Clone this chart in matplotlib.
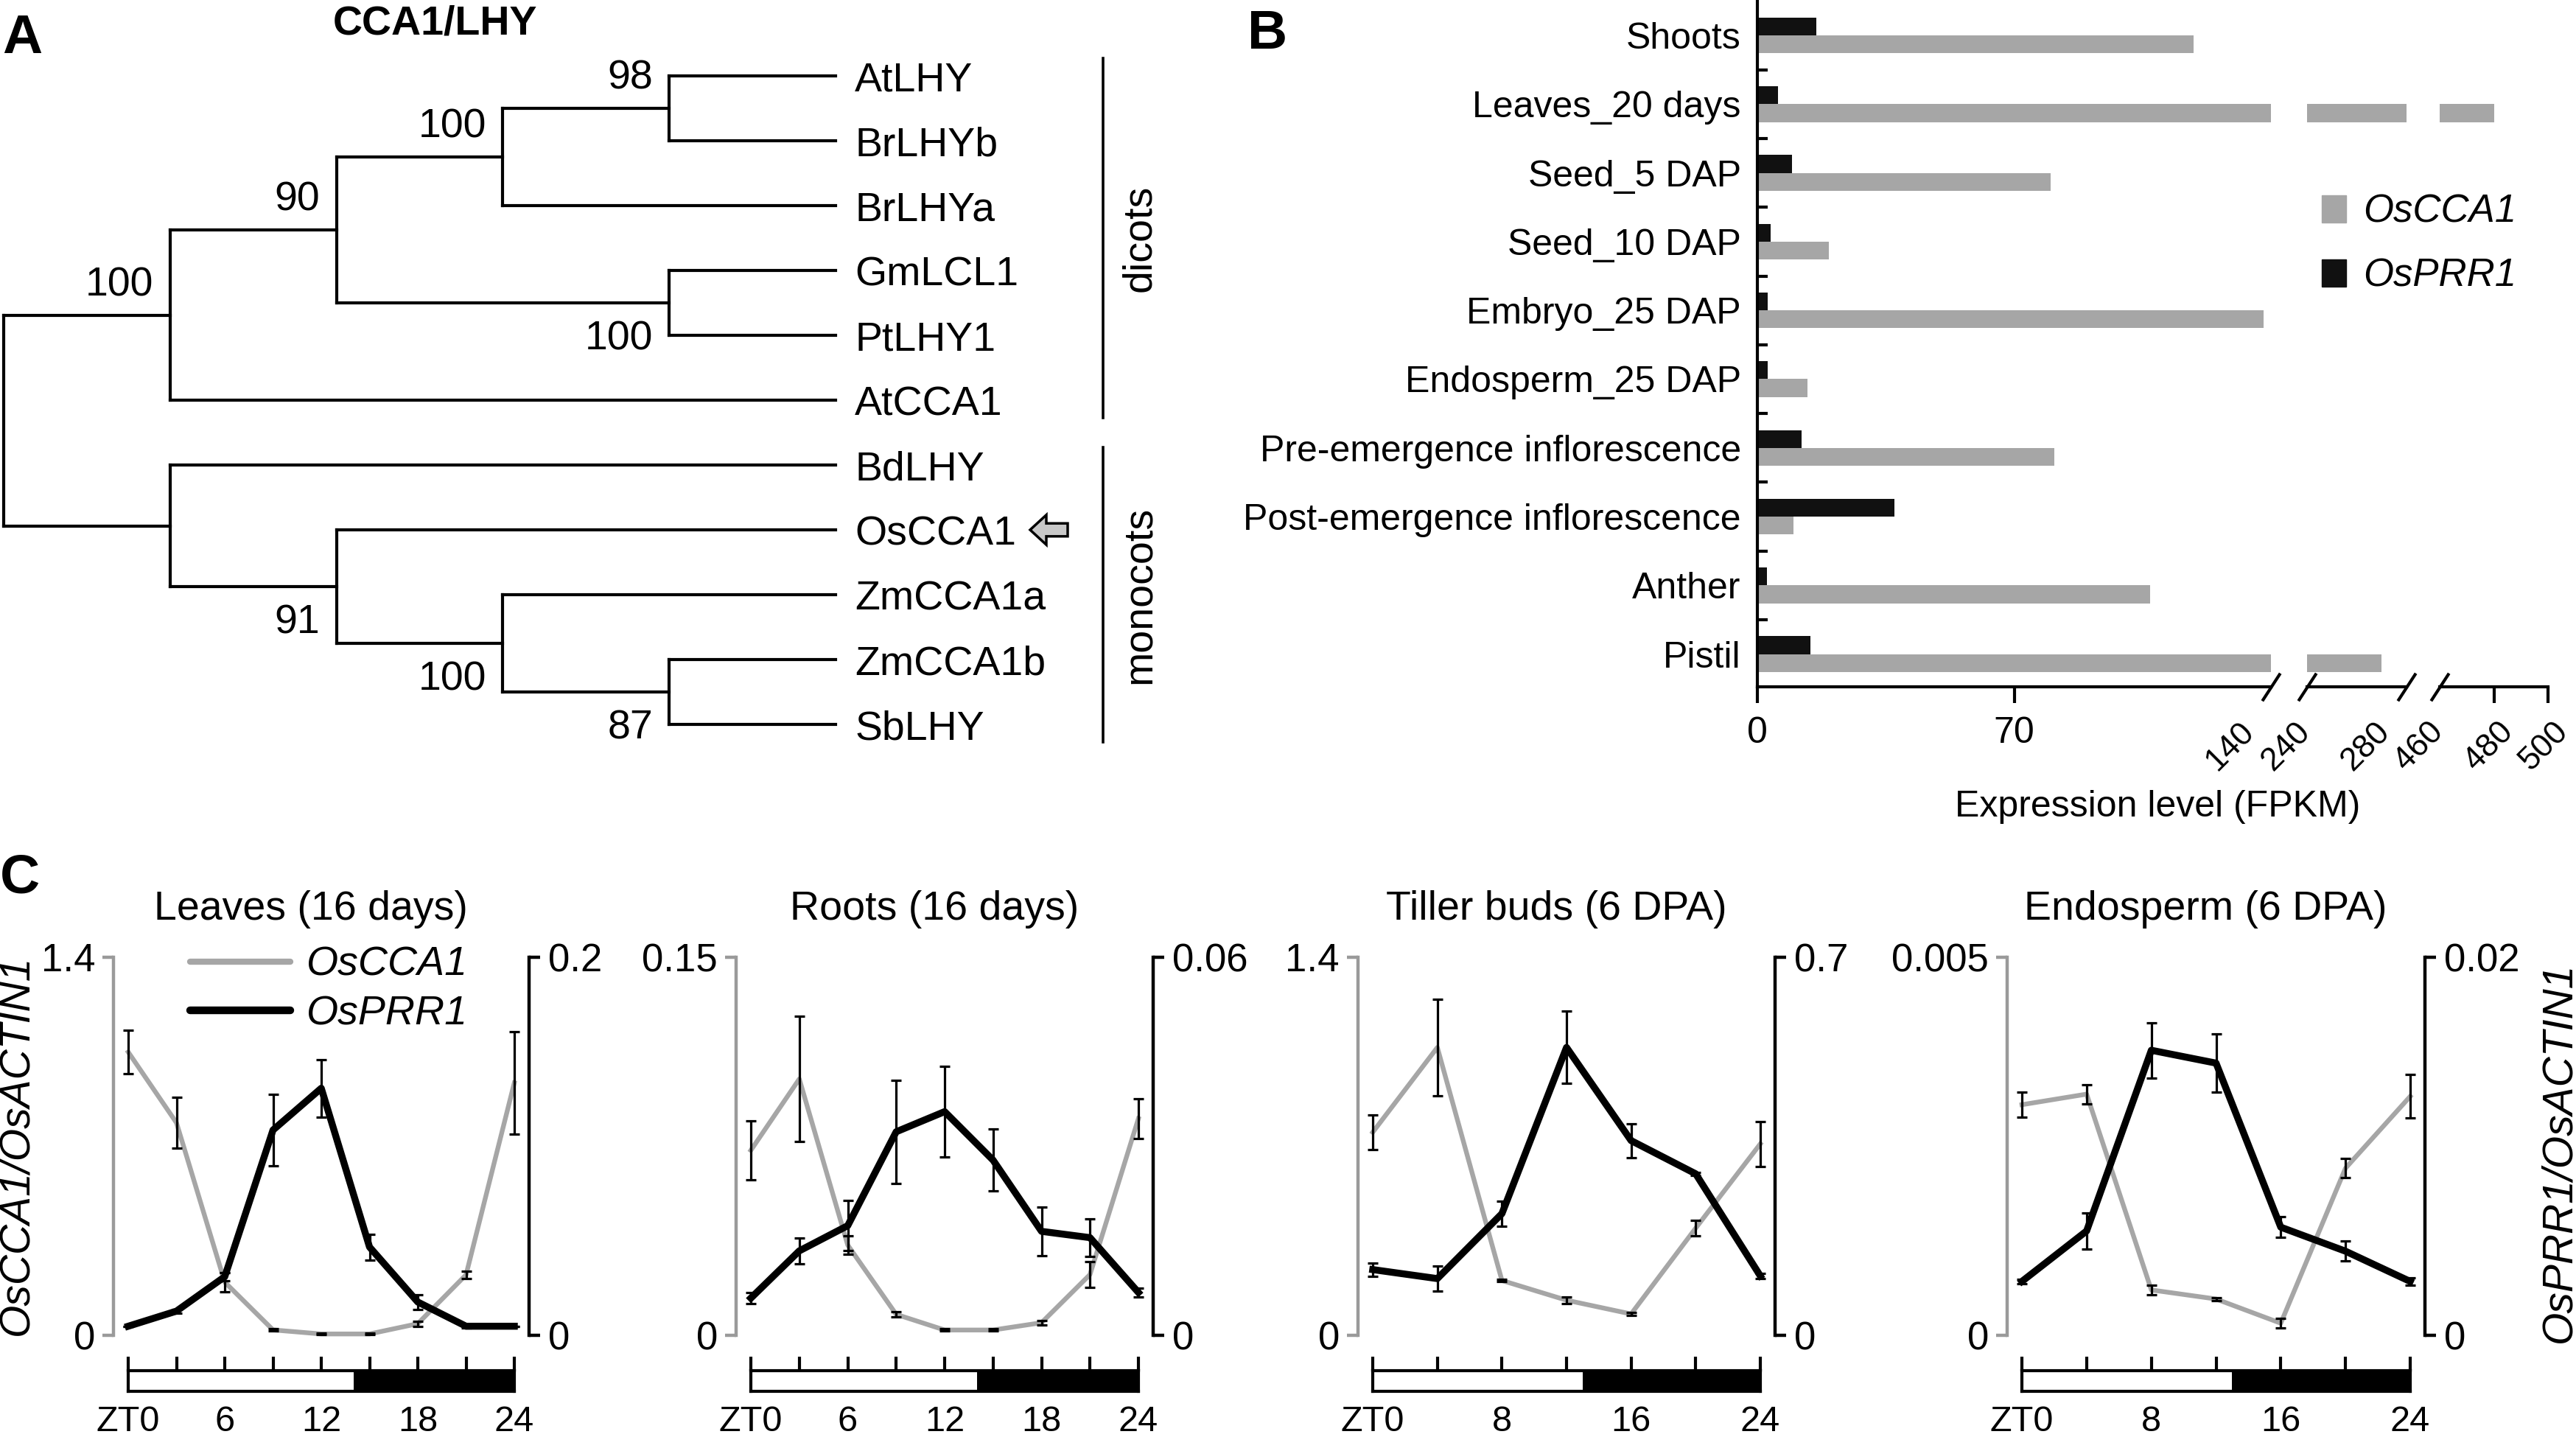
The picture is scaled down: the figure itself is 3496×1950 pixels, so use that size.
import numpy as np
import matplotlib
matplotlib.use("Agg")
import matplotlib.pyplot as plt
from matplotlib.patches import Patch, FancyArrow
from matplotlib.lines import Line2D

plt.rcParams['font.family'] = ['Liberation Sans', 'DejaVu Sans']

# ---------------- data ----------------
# Panel A: cladogram (newick with bootstrap support)
tree_newick = "(((((AtLHY,BrLHYb)98,BrLHYa)100,(GmLCL1,PtLHY1)100)90,AtCCA1)100,(BdLHY,(OsCCA1,(ZmCCA1a,(ZmCCA1b,SbLHY)87)100)91));"
tree_title = "CCA1/LHY"
groups = [("dicots", "AtLHY", "AtCCA1"), ("monocots", "BdLHY", "SbLHY")]
highlight = "OsCCA1"

# Panel B: expression (FPKM)
tissues = ["Shoots", "Leaves_20 days", "Seed_5 DAP", "Seed_10 DAP", "Embryo_25 DAP",
           "Endosperm_25 DAP", "Pre-emergence inflorescence",
           "Post-emergence inflorescence", "Anther", "Pistil"]
oscca1_fpkm = [119, 480, 80, 19.5, 138, 13.7, 81, 9.8, 107, 270]
osprr1_fpkm = [16, 5.6, 9.4, 3.6, 2.8, 2.8, 12.1, 37.4, 2.6, 14.5]
x_segments = [(0, 140), (240, 280), (460, 500)]
x_segment_ticks = [[0, 70, 140], [240, 280], [460, 480, 500]]

# Panel C: qRT-PCR time courses
c_titles = ["Leaves (16 days)", "Roots (16 days)", "Tiller buds (6 DPA)", "Endosperm (6 DPA)"]
c_times = [[0, 3, 6, 9, 12, 15, 18, 21, 24], [0, 3, 6, 9, 12, 15, 18, 21, 24],
           [0, 4, 8, 12, 16, 20, 24], [0, 4, 8, 12, 16, 20, 24]]
c_time_labels = [[0, 6, 12, 18, 24], [0, 6, 12, 18, 24], [0, 8, 16, 24], [0, 8, 16, 24]]
c_light_hours = [14, 14, 13, 13]
cca1_mean = [
    [1.049, 0.787, 0.197, 0.020, 0.005, 0.005, 0.043, 0.224, 0.935],
    [0.0734, 0.1017, 0.0358, 0.0083, 0.0021, 0.0021, 0.0050, 0.0241, 0.0860],
    [0.752, 1.066, 0.203, 0.130, 0.079, 0.397, 0.709],
    [0.00305, 0.00319, 0.00060, 0.00048, 0.00016, 0.00221, 0.00316],
]
cca1_err = [
    [0.080, 0.095, 0.036, 0.004, 0.003, 0.003, 0.010, 0.013, 0.190],
    [0.0118, 0.0248, 0.0036, 0.0010, 0.0004, 0.0004, 0.0009, 0.0050, 0.0079],
    [0.064, 0.179, 0.005, 0.013, 0.006, 0.029, 0.083],
    [0.000166, 0.000127, 0.00006, 0.00002, 0.00006, 0.000127, 0.000288],
]
prr1_mean = [
    [0.0048, 0.0128, 0.0310, 0.1086, 0.1307, 0.0467, 0.0176, 0.0048, 0.0048],
    [0.0059, 0.0134, 0.0174, 0.0323, 0.0355, 0.0278, 0.0165, 0.0155, 0.0068],
    [0.1217, 0.1050, 0.2253, 0.5330, 0.3605, 0.2990, 0.1100],
    [0.00285, 0.00552, 0.01508, 0.01440, 0.00572, 0.00445, 0.00285],
]
prr1_err = [
    [0.0000, 0.0010, 0.0020, 0.0188, 0.0153, 0.0069, 0.0038, 0.0008, 0.0000],
    [0.0009, 0.0020, 0.0040, 0.0082, 0.0072, 0.0049, 0.0039, 0.0030, 0.0007],
    [0.0127, 0.0234, 0.0234, 0.0669, 0.0310, 0.0030, 0.0050],
    [0.00012, 0.00096, 0.00146, 0.00153, 0.00055, 0.00053, 0.00020],
]
ymax_cca1 = [1.4, 0.15, 1.4, 0.005]
ymax_prr1 = [0.2, 0.06, 0.7, 0.02]

# ---------------- style ----------------
W, H = 3496, 1950
GRAY = '#a6a6a6'
SPINE_GRAY = '#9a9a9a'
BLACK = '#111111'
PT = 72 / 100  # points per pixel at dpi 100

fig = plt.figure(figsize=(W / 100, H / 100), dpi=100)
fig.patch.set_facecolor('white')


def rect(l, t, r, b):
    return [l / W, 1 - b / H, (r - l) / W, (b - t) / H]


def fxy(x, y):
    return x / W, 1 - y / H


# panel letters
for lab, (x, y) in zip("ABC", [(30, 53), (1720, 47), (27, 1192)]):
    fig.text(*fxy(x, y), lab, fontsize=54, fontweight='bold', ha='center', va='center')

# ================= Panel A =================
def parse_newick(s):
    pos = 0

    def node():
        nonlocal pos
        if s[pos] == '(':
            pos += 1
            kids = []
            while True:
                kids.append(node())
                if s[pos] == ',':
                    pos += 1
                else:
                    pos += 1
                    break
            st = pos
            while s[pos] not in ',);':
                pos += 1
            return {'kids': kids, 'label': s[st:pos]}
        st = pos
        while s[pos] not in ',);':
            pos += 1
        return {'name': s[st:pos]}
    return node()


root = parse_newick(tree_newick)
leaf_order = []


def layout(n):
    if 'name' in n:
        n['y'] = len(leaf_order)
        leaf_order.append(n['name'])
        n['h'] = 0
        return
    for k in n['kids']:
        layout(k)
    n['h'] = 1 + max(k['h'] for k in n['kids'])
    n['y'] = (n['kids'][0]['y'] + n['kids'][-1]['y']) / 2


layout(root)
depth = root['h']
nleaf = len(leaf_order)

axA = fig.add_axes(rect(5, 103, 1134, 983))
axA.set_xlim(0, depth)
axA.set_ylim(nleaf - 1, 0)
axA.axis('off')
unit_px = (1134 - 5) / depth
tree_lw = 3.0


def draw(n):
    if 'name' in n:
        return
    x = depth - n['h']
    axA.plot([x, x], [n['kids'][0]['y'], n['kids'][-1]['y']], color='black',
             lw=tree_lw, solid_capstyle='projecting', clip_on=False)
    for i, k in enumerate(n['kids']):
        kx = depth - k['h']
        axA.plot([x, kx], [k['y'], k['y']], color='black', lw=tree_lw,
                 solid_capstyle='projecting', clip_on=False)
        if 'kids' in k and k['label']:
            above = (i == 0)
            axA.annotate(k['label'], xy=(kx, k['y']),
                         xytext=(-16, 19 if above else -17), textcoords='offset points',
                         ha='right', va='baseline' if above else 'top', fontsize=40)
        draw(k)


draw(root)

for i, name in enumerate(leaf_order):
    axA.annotate(name, xy=(depth, i), xytext=(19, -14.5), textcoords='offset points',
                 ha='left', va='baseline', fontsize=40)

for gname, g0, g1 in groups:
    a, b = leaf_order.index(g0), leaf_order.index(g1)
    xb = depth + 363 / unit_px
    axA.plot([xb, xb], [a - 0.27, b + 0.27], color='black', lw=2.6, clip_on=False)
    axA.text(depth + 413 / unit_px, (a + b) / 2, gname, rotation=90, ha='center',
             va='center', fontsize=40)

hi = leaf_order.index(highlight)
arr_x0 = depth + 315 / unit_px
arr_len = 51 / unit_px
axA.add_patch(FancyArrow(arr_x0, hi, -arr_len, 0, width=0.2, head_width=0.46,
                         head_length=22 / unit_px, length_includes_head=True,
                         fc='#c8c8c8', ec='black', lw=2.5, clip_on=False))

fig.text(*fxy(591, 32), tree_title, fontsize=40, fontweight='bold', ha='center', va='center')

# ================= Panel B =================
seg_px = [(2385, 3082), (3131, 3266), (3311, 3458)]
idx = np.arange(len(tissues))
bh = 0.26
axes_b = []
nseg = len(seg_px)
for si, ((l, r), lim, ticks) in enumerate(zip(seg_px, x_segments, x_segment_ticks)):
    ax = fig.add_axes(rect(l, 0, r, 932))
    axes_b.append(ax)
    ax.barh(idx - bh / 2, osprr1_fpkm, height=bh, color=BLACK)
    ax.barh(idx + bh / 2, oscca1_fpkm, height=bh, color=GRAY)
    ax.set_xlim(*lim)
    ax.set_ylim(9.475, -0.514)
    for sp in ['top', 'right']:
        ax.spines[sp].set_visible(False)
    ax.spines['bottom'].set_linewidth(3)
    if si == 0:
        ax.spines['left'].set_linewidth(3)
        ax.set_yticks(idx, tissues)
        ax.set_yticks(idx[:-1] + 0.5, minor=True)
        ax.tick_params(axis='y', which='major', length=0, pad=16, labelsize=36)
        ax.tick_params(axis='y', which='minor', direction='in', length=10, width=3)
    else:
        ax.spines['left'].set_visible(False)
        ax.set_yticks([])
    rotated = [t >= 140 for t in ticks]
    ax.set_xticks(ticks, ['' if rt else str(t) for t, rt in zip(ticks, rotated)])
    ax.tick_params(axis='x', direction='out', length=16, width=3, pad=13, labelsize=36)
    for t, tk, rt in zip(ticks, ax.xaxis.get_major_ticks(), rotated):
        end_break = (t == lim[1] and si < nseg - 1)
        start_break = (t == lim[0] and si > 0)
        if end_break or start_break:
            tk.tick1line.set_visible(False)
        if rt:
            dx = -55 if end_break else (-28 if start_break else -6)
            ax.annotate(str(t), xy=(t, 0), xycoords=ax.get_xaxis_transform(),
                        xytext=(dx * PT, -81 * PT), textcoords='offset points',
                        rotation=45, ha='center', va='center', fontsize=32,
                        annotation_clip=False)
    # break marks
    brk = []
    if si > 0:
        brk.append(lim[0])
    if si < nseg - 1:
        brk.append(lim[1])
    for bx in brk:
        ax.plot([bx], [0], transform=ax.get_xaxis_transform(),
                marker=[(-0.65, -1), (0.65, 1)], markersize=27, mec='black', mew=3,
                clip_on=False, zorder=10)

fig.text(*fxy(2928, 1108), "Expression level (FPKM)", fontsize=36, ha='center', va='baseline')
fig.legend(handles=[Patch(color=GRAY), Patch(color=BLACK)], labels=["OsCCA1", "OsPRR1"],
           loc='upper left', bbox_to_anchor=fxy(3151, 263), frameon=False,
           prop={'style': 'italic', 'size': 38}, handlelength=0.62, handleheight=0.68,
           handletextpad=0.45, labelspacing=0.7, borderpad=0, borderaxespad=0)

# ================= Panel C =================
c_left = [154, 999, 1843, 2724]
c_right = [718, 1565, 2409, 3291]
c_top, c_bot = 1299, 1812
edge_px = 20
for k in range(4):
    L, R = c_left[k], c_right[k]
    span = (R - L - 2 * edge_px) / 24.0
    pad_h = edge_px / span
    ax = fig.add_axes(rect(L, c_top, R, c_bot))
    ax2 = ax.twinx()
    t = np.array(c_times[k])
    ax.set_xlim(-pad_h, 24 + pad_h)
    ax.set_ylim(0, ymax_cca1[k])
    ax2.set_ylim(0, ymax_prr1[k])
    ax.plot(t, cca1_mean[k], color=GRAY, lw=4.6, clip_on=False, zorder=2)
    ax.errorbar(t, cca1_mean[k], yerr=cca1_err[k], fmt='none', ecolor='black',
                elinewidth=2.3, capsize=5, capthick=2.3, zorder=3, clip_on=False)
    ax2.plot(t, prr1_mean[k], color='black', lw=6.8, clip_on=False, zorder=2)
    ax2.errorbar(t, prr1_mean[k], yerr=prr1_err[k], fmt='none', ecolor='black',
                 elinewidth=2.3, capsize=5, capthick=2.3, zorder=3, clip_on=False)
    for a in (ax, ax2):
        for sp in ['top', 'bottom']:
            a.spines[sp].set_visible(False)
        a.set_xticks([])
    ax.spines['right'].set_visible(False)
    ax2.spines['left'].set_visible(False)
    ax.spines['left'].set_color(SPINE_GRAY)
    ax.spines['left'].set_linewidth(3.2)
    ax2.spines['right'].set_color('black')
    ax2.spines['right'].set_linewidth(3.2)
    ax.set_yticks([0, ymax_cca1[k]], ['0', f'{ymax_cca1[k]:g}'])
    ax2.set_yticks([0, ymax_prr1[k]], ['0', f'{ymax_prr1[k]:g}'])
    ax.tick_params(axis='y', color=SPINE_GRAY, labelcolor='black', length=11, width=3.2,
                   labelsize=38, pad=7)
    ax2.tick_params(axis='y', color='black', length=11, width=3.2, labelsize=38, pad=8)
    ax.set_title(c_titles[k], fontsize=40, pad=37, x=0.475)

    # light/dark bar with sampling ticks
    bx0, bx1 = L + edge_px, R - edge_px
    axb = fig.add_axes(rect(bx0, 1860, bx1, 1888))
    axb.set_xlim(0, 24)
    axb.set_ylim(0, 1)
    axb.axvspan(c_light_hours[k], 24, color='black', lw=0)
    for sp in axb.spines.values():
        sp.set_linewidth(3)
    labs = c_time_labels[k]
    axb.set_xticks(labs, ['ZT0' if v == 0 else str(v) for v in labs])
    axb.set_xticks([v for v in c_times[k] if v not in labs], minor=True)
    axb.set_yticks([])
    axb.tick_params(axis='x', which='both', top=True, bottom=False, labeltop=False,
                    labelbottom=True, direction='out', length=14, width=3, pad=0,
                    labelsize=35)

fig.legend(handles=[Line2D([], [], color=GRAY, lw=6, solid_capstyle='round'),
                    Line2D([], [], color='black', lw=7.5, solid_capstyle='round')],
           labels=["OsCCA1", "OsPRR1"], loc='upper left', bbox_to_anchor=fxy(258, 1284),
           frameon=False, prop={'style': 'italic', 'size': 40}, handlelength=2.45,
           handletextpad=0.4, labelspacing=0.26, borderpad=0, borderaxespad=0)

fig.text(*fxy(22, 1554), "OsCCA1/OsACTIN1", rotation=90, style='italic', fontsize=41,
         ha='center', va='center')
fig.text(*fxy(3473, 1564), "OsPRR1/OsACTIN1", rotation=90, style='italic', fontsize=41,
         ha='center', va='center')

fig.savefig("out.png", dpi=100, facecolor='white')
